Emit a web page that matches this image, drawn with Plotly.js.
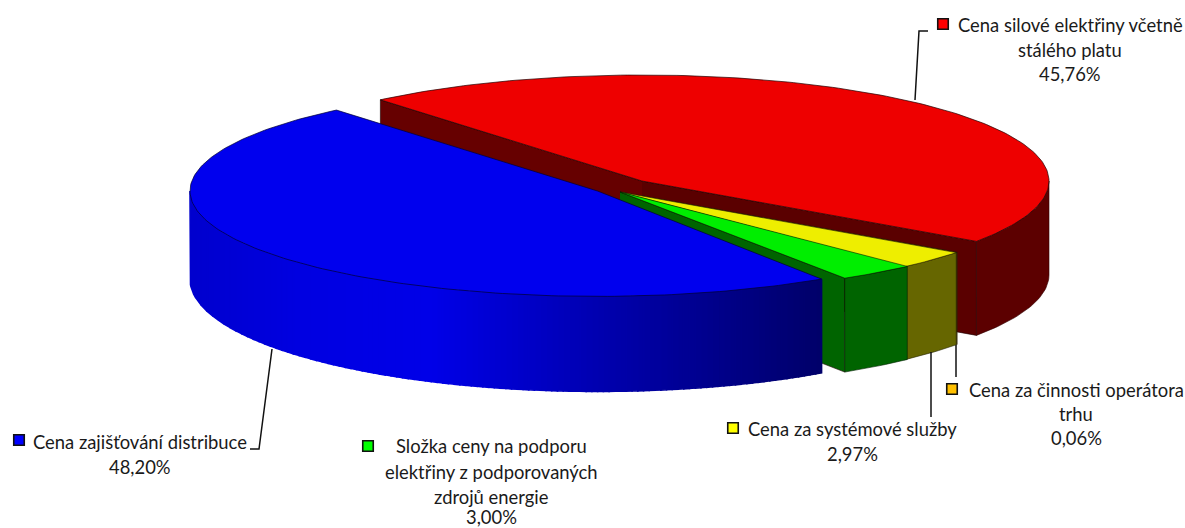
<!DOCTYPE html>
<html><head><meta charset="utf-8">
<script src="https://cdn.plot.ly/plotly-3.0.1.min.js"></script>
<style>html,body{margin:0;padding:0;background:#fff}#c{width:1185px;height:528px}</style>
</head><body><div id="c"></div>
<script>
// Data
const categories = ["Cena silové elektřiny včetně stálého platu","Cena za činnosti operátora trhu","Cena za systémové služby","Složka ceny na podporu elektřiny z podporovaných zdrojů energie","Cena zajišťování distribuce"];
const values = [45.76, 0.06, 2.97, 3.00, 48.20];
const valueLabels = ["45,76%","0,06%","2,97%","3,00%","48,20%"];
// Style + projection
const topColors  = ["#ee0000","#e0b000","#eeee00","#00ee00","#0000ee"];
const sideColors = ["#5c0000","#665000","#666600","#006400",null];
const keyColors  = ["#ff0000","#ffc000","#ffff00","#00ff00","#0000ff"];
const centerX = [642,620,620,620,597.5];
const centerY = [181,192,192,192,191];
const radiusX = [407,418,418,420,407.5];
const radiusY = [106,102,102,102,105.4];
const angleShift = [-1.5,0,0,-0.3,-1.3];
const startAngle = 231.5;
const H = (i,t) => i===0 ? 94 : 88 + 7*Math.sin(t);
const rad = d => d*Math.PI/180;

let acc = startAngle;
const arcs = values.map((v,i)=>{const a0=acc, a1=acc+v*3.6; acc=a1; return [a0+angleShift[i],a1+angleShift[i]];});
const pt = (i,deg)=>[centerX[i]+radiusX[i]*Math.cos(rad(deg)), centerY[i]+radiusY[i]*Math.sin(rad(deg))];
const range = (a,b,n)=>Array.from({length:n+1},(_,k)=>a+(b-a)*k/n);

const traces=[];
function poly(pts,fill,line,lw){
  traces.push({type:"scatter",mode:"lines",x:pts.map(p=>p[0]),y:pts.map(p=>p[1]),fill:"toself",fillcolor:fill,
    line:{color:line||fill,width:lw===undefined?0.6:lw},hoverinfo:"skip",showlegend:false});
}
function line(pts,c,w){
  traces.push({type:"scatter",mode:"lines",x:pts.map(p=>p[0]),y:pts.map(p=>p[1]),line:{color:c,width:w},hoverinfo:"skip",showlegend:false});
}
function wedge(i){
  const n=Math.max(2,Math.ceil(arcs[i][1]-arcs[i][0]));
  return [[centerX[i],centerY[i]]].concat(range(arcs[i][0],arcs[i][1],n).map(d=>pt(i,d))).concat([[centerX[i],centerY[i]]]);
}
function radialWall(i,deg,c){
  const p=pt(i,deg), h=H(i,rad(deg)), hc=H(i,rad(45));
  poly([[centerX[i],centerY[i]],p,[p[0],p[1]+h],[centerX[i],centerY[i]+hc]],c,"#1a0000",0.6);
}
function outerSide(i,a,b,c,outline,lw){
  const A=range(a,b,Math.max(2,Math.ceil(Math.abs(b-a))));
  const top=A.map(d=>pt(i,d)), bot=A.map(d=>{const p=pt(i,d);return [p[0],p[1]+H(i,rad(d))];}).reverse();
  poly(top.concat(bot).concat([top[0]]),c,outline||c,lw===undefined?0.6:lw);
}
// 0 red: back walls first
radialWall(0,arcs[0][0],"#660000");
radialWall(0,arcs[0][1],"#5a0000");
outerSide(0,360,arcs[0][1],sideColors[0],"#300000");
poly(wedge(0),topColors[0],"#200000",0.7);
// 1 operator sliver, 2 yellow, 3 green
outerSide(1,arcs[1][0],arcs[1][1],sideColors[1],"#221a00");
outerSide(2,arcs[2][0],arcs[2][1],sideColors[2],"#222200");
radialWall(3,arcs[3][1],sideColors[3]);
outerSide(3,arcs[3][0],arcs[3][1],sideColors[3],"#002000");
poly(wedge(1),topColors[1],"#222200",0.4);
poly(wedge(2),topColors[2],"#222200",0.6);
poly(wedge(3),topColors[3],"#002000",0.6);
// 4 blue: outer side in gradient strips
const blueStops=[[190,205],[300,225],[430,232],[600,175],[821,105]];
function blueAt(x){
  for(let k=1;k<blueStops.length;k++){ if(x<=blueStops[k][0]){const s=blueStops[k-1],e=blueStops[k];
    return Math.round(s[1]+(e[1]-s[1])*(x-s[0])/(e[0]-s[0]));}}
  return blueStops[blueStops.length-1][1];
}
const strips=110, a0=arcs[4][0]-360;
const xMin=centerX[4]-radiusX[4], xMax=pt(4,a0)[0];
for(let s=0;s<strips;s++){
  const xa=xMax-(xMax-xMin)*s/strips, xb=xMax-(xMax-xMin)*(s+1)/strips;
  const da=Math.acos(Math.max(-1,Math.min(1,(xa-centerX[4])/radiusX[4])))*180/Math.PI;
  const db=Math.acos(Math.max(-1,Math.min(1,(xb-centerX[4])/radiusX[4])))*180/Math.PI;
  outerSide(4,da,db,`rgb(0,0,${blueAt((xa+xb)/2)})`,null,1.6);
}
poly(wedge(4),topColors[4],"#000030",0.7);
// leader lines
const leaderX=[[915,919,928],[956,956],[931,931],[272,259,250]];
const leaderY=[[100,31,31],[345,377],[352,417],[349,449,449]];
leaderX.forEach((x,i)=>line(x.map((v,k)=>[v,leaderY[i][k]]),"#111",1.5));
// legend keys
const keyX=[943,952,733,368,19], keyY=[24,389,428,446,440];
traces.push({type:"scatter",mode:"markers",x:keyX,y:keyY,hoverinfo:"skip",showlegend:false,
  marker:{symbol:"square",size:10.5,color:keyColors,line:{color:"#111",width:1.6}}});
// labels: one annotation per line
const labelLines=[
 ["Cena silové elektřiny včetně",1070,25],["stálého platu",1070,50],[valueLabels[0],1070,74],
 ["Cena za činnosti operátora",1076,390],["trhu",1076,414],[valueLabels[1],1076,438],
 ["Cena za systémové služby",852,429],[valueLabels[2],852,454],
 ["Složka ceny na podporu",491,446],["elektřiny z podporovaných",491,472],["zdrojů energie",491,497],[valueLabels[3],491,517],
 ["Cena zajišťování distribuce",140,442],[valueLabels[4],140,467]];
const annotations=labelLines.map(l=>({xref:"x",yref:"y",x:l[1],y:l[2],text:l[0],showarrow:false,xanchor:"center",yanchor:"middle",
  font:{family:"Lato, 'Open Sans', sans-serif",size:18.4,color:"#1a1a1a"}}));

Plotly.newPlot("c",traces,{
  width:1185,height:528,margin:{l:0,r:0,t:0,b:0},paper_bgcolor:"#fff",plot_bgcolor:"#fff",showlegend:false,
  xaxis:{range:[0,1185],visible:false,fixedrange:true},
  yaxis:{range:[528,0],visible:false,fixedrange:true},
  annotations
},{displayModeBar:false,staticPlot:true});
</script></body></html>
